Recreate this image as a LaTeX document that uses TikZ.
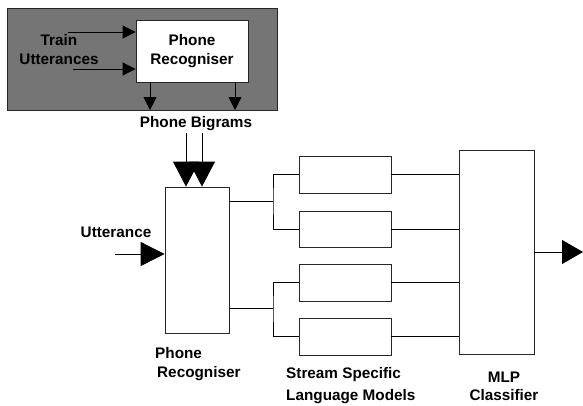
\documentclass[tikz,border=0pt]{standalone}
\usepackage{fontspec}
\setmainfont{Liberation Sans}
\usetikzlibrary{arrows.meta}
\tikzset{
  box/.style={draw=black!85, fill=white, line width=0.8pt, inner sep=0pt},
  lbl/.style={font=\fontsize{15.3}{19}\selectfont\bfseries, inner sep=0pt},
  wire/.style={draw=black, line width=0.8pt},
  arr/.style={wire, -{Triangle[length=13pt,width=13pt]}},
  bigarr/.style={wire, -{Triangle[length=25pt,width=26pt]}}
}

\begin{document}
\begin{tikzpicture}[x=1pt,y=-1pt]
    \useasboundingbox (0,0) rectangle (583,405);
    % Training part
    \draw[draw=black!85, fill=black!54, line width=0.8pt] (7,8) rectangle (277,110);
    \node[box, minimum width=112pt, minimum height=62pt] (prtop) at (192,51) {};
    \node[lbl, align=center] at (prtop) {Phone\\Recogniser};
    \node[lbl, align=center] (train) at (59,50) {Train\\Utterances};
    \coordinate (tin1) at (68,32);
    \coordinate (tin2) at (73,69);
    \draw[arr] (tin1) -- (prtop.west|-tin1);
    \draw[arr] (tin2) -- (prtop.west|-tin2);
    \coordinate (bg1) at (150,110);
    \coordinate (bg2) at (235,110);
    \draw[arr] (prtop.south-|bg1) -- (bg1);
    \draw[arr] (prtop.south-|bg2) -- (bg2);
    \node[lbl] (bigrams) at (196,124) {Phone Bigrams};
    % Recognition part
    \node[box, minimum width=64pt, minimum height=146pt] (prbot) at (197,260) {};
    \coordinate (bb1) at (186,133);
    \coordinate (bb2) at (202,133);
    \draw[bigarr] (bb1) -- (prbot.north-|bb1);
    \draw[bigarr] (bb2) -- (prbot.north-|bb2);
    \node[lbl] (utt) at (116,232) {Utterance};
    \coordinate (uin) at (115,254);
    \draw[bigarr, -{Triangle[length=24pt,width=24pt]}] (uin) -- (prbot.west|-uin);
    \node[lbl, align=left, anchor=west] (prlbl) at (155,364) {Phone\\\hspace*{2pt}Recogniser};
    % Language models
    \node[box, minimum width=92pt, minimum height=37pt] (lm1) at (345,174.5) {};
    \node[box, minimum width=92pt, minimum height=36pt] (lm2) at (345,229) {};
    \node[box, minimum width=92pt, minimum height=37pt] (lm3) at (345,282.5) {};
    \node[box, minimum width=92pt, minimum height=37pt] (lm4) at (345,336.5) {};
    \node[lbl, align=left, anchor=west, font=\fontsize{15.3}{22}\selectfont\bfseries] (lmlbl) at (286,386) {Stream Specific\\Language Models};
    \coordinate (f1) at (273,201);
    \coordinate (f2) at (273,308);
    \draw[wire] (prbot.east|-f1) -- (f1) (lm1.west) -| (f1) |- (lm2.west);
    \draw[wire] (prbot.east|-f2) -- (f2) (lm3.west) -| (f2) |- (lm4.west);
    % Classifier
    \node[box, minimum width=75pt, minimum height=204pt] (mlp) at (496.5,252) {};
    \node[lbl, align=center, font=\fontsize{15.3}{18}\selectfont\bfseries] (mlplbl) at (504,386) {MLP\\Classifier};
    \foreach \m in {lm1,lm2,lm3,lm4}
      \draw[wire] (\m.east) -- (\m.east-|mlp.west);
    \coordinate (out) at (583,252);
    \draw[bigarr, -{Triangle[length=21pt,width=24pt]}] (mlp.east) -- (out);
\end{tikzpicture}
\end{document}
